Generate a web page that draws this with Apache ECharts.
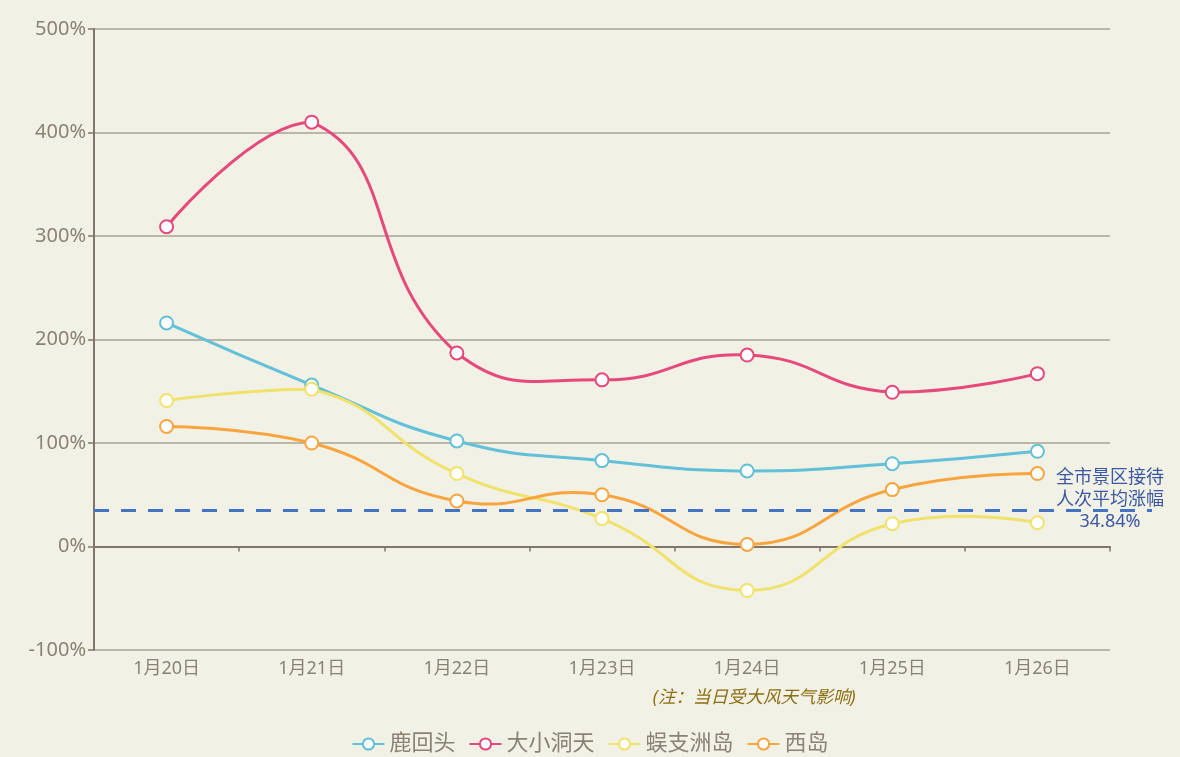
<!DOCTYPE html>
<html>
<head>
<meta charset="utf-8">
<script src="https://cdn.jsdelivr.net/npm/echarts@6/dist/echarts.min.js"></script>
<style>
html,body{margin:0;padding:0;background:#f2f1e6;}
#chart{width:1180px;height:757px;}
</style>
</head>
<body>
<div id="chart"></div>
<script>
const categories = ['1月20日','1月21日','1月22日','1月23日','1月24日','1月25日','1月26日'];
const seriesNames = ['鹿回头','大小洞天','蜈支洲岛','西岛'];
const luhuitou = [216, 156, 102, 83, 73, 80, 92];
const daxiaodongtian = [309, 410, 187, 161, 185, 149, 167];
const wuzhizhoudao = [141, 152, 70.5, 27, -42.5, 22, 23];
const xidao = [116, 100, 44, 50, 2, 55, 70.5];
const averageRise = 34.84;
const averageLabel = ['全市景区接待', '人次平均涨幅', averageRise.toFixed(2) + '%'];
const noteCategory = '1月24日';
const noteText = '(注：当日受大风天气影响)';
const yTicks = { min: -100, max: 500, interval: 100 };

const colors = ['#62c0d8', '#e6497c', '#f1e26c', '#f8a53f'];
const FONT = '"Noto Sans", "Noto Sans CJK SC", sans-serif';
const axisColor = '#7f786a';
const splitColor = '#a9a392';
const labelColor = '#8a8373';
const SMOOTH = 0.5;

const chart = echarts.init(document.getElementById('chart'), null, {renderer: 'canvas'});
const dataSets = [luhuitou, daxiaodongtian, wuzhizhoudao, xidao];

// Smooth curve through the points (bezier control points constrained to the points' bounding box)
function makeCurveRenderer(values, color) {
  return function (params, api) {
    const pts = values.map(function (v, i) { return api.coord([i, v]); });
    let minX = Infinity, minY = Infinity, maxX = -Infinity, maxY = -Infinity;
    pts.forEach(function (p) {
      minX = Math.min(minX, p[0]); maxX = Math.max(maxX, p[0]);
      minY = Math.min(minY, p[1]); maxY = Math.max(maxY, p[1]);
    });
    function clamp(c) {
      return [Math.min(Math.max(c[0], minX), maxX), Math.min(Math.max(c[1], minY), maxY)];
    }
    const children = [];
    let cp0 = pts[0].slice();
    for (let i = 1; i < pts.length; i++) {
      const p = pts[i], prev = pts[i - 1], next = pts[i + 1];
      let cp1, v = [0, 0], r = 0.5;
      if (!next) {
        cp1 = p.slice();
      } else {
        v = [next[0] - prev[0], next[1] - prev[1]];
        const lenPrev = Math.hypot(p[0] - prev[0], p[1] - prev[1]);
        const lenNext = Math.hypot(next[0] - p[0], next[1] - p[1]);
        r = lenNext / (lenNext + lenPrev);
        cp1 = [p[0] - v[0] * SMOOTH * (1 - r), p[1] - v[1] * SMOOTH * (1 - r)];
      }
      const c0 = clamp(cp0), c1 = clamp(cp1);
      children.push({
        type: 'bezierCurve',
        shape: { x1: prev[0], y1: prev[1], x2: p[0], y2: p[1], cpx1: c0[0], cpy1: c0[1], cpx2: c1[0], cpy2: c1[1] },
        style: { stroke: color, lineWidth: 3, fill: null }
      });
      cp0 = [p[0] + v[0] * SMOOTH * r, p[1] + v[1] * SMOOTH * r];
    }
    return { type: 'group', children: children };
  };
}

const curveSeries = dataSets.map(function (vals, i) {
  return {
    type: 'custom', coordinateSystem: 'cartesian2d', xAxisIndex: 0, yAxisIndex: 0,
    data: [[0, vals[0]]], renderItem: makeCurveRenderer(vals, colors[i]), silent: true, z: 2,
    clip: false
  };
});

const lineSeries = seriesNames.map(function (name, i) {
  return {
    name: name, type: 'line', xAxisIndex: 0, yAxisIndex: 0,
    data: dataSets[i],
    symbol: 'emptyCircle', symbolSize: 13,
    itemStyle: { color: colors[i], borderWidth: 2 },
    lineStyle: { color: colors[i], width: 3, opacity: 0 },
    z: 3
  };
});

const option = {
  backgroundColor: '#f2f1e6',
  animation: false,
  textStyle: { fontFamily: FONT },
  legend: {
    data: seriesNames.map(function (n, i) {
      return { name: n, lineStyle: { color: colors[i], width: 2, opacity: 1 } };
    }),
    top: 728,
    left: 'center',
    itemWidth: 32,
    itemHeight: 14,
    itemGap: 13,
    textStyle: { color: '#8a8373', fontSize: 22, fontFamily: FONT }
  },
  grid: [
    { left: 94, right: 70, top: 29, bottom: 107 },
    { left: 94, right: 28, top: 29, bottom: 107 }
  ],
  xAxis: [
    {
      type: 'category', gridIndex: 0, data: categories, boundaryGap: true,
      axisLine: { onZero: true, lineStyle: { color: axisColor, width: 2 } },
      axisTick: { show: true, length: 5, lineStyle: { color: axisColor, width: 1.5 } },
      axisLabel: { show: false },
      splitLine: { show: false }
    },
    {
      type: 'category', gridIndex: 0, data: categories, boundaryGap: true, position: 'bottom',
      axisLine: { show: false, onZero: false },
      axisTick: { show: false },
      axisLabel: {
        interval: 0,
        color: labelColor, fontSize: 18, margin: 8, lineHeight: 22, fontFamily: FONT,
        formatter: function (v) { return v === noteCategory ? v + '\n{note|' + noteText + '}' : v; },
        rich: {
          note: { fontSize: 17.5, fontStyle: 'italic', color: '#8c6e12', lineHeight: 36, padding: [0, 0, 0, 14], fontFamily: FONT }
        }
      },
      splitLine: { show: false }
    },
    { type: 'value', gridIndex: 1, min: 0, max: 1, show: false }
  ],
  yAxis: [
    {
      type: 'value', gridIndex: 0, min: yTicks.min, max: yTicks.max, interval: yTicks.interval,
      axisLine: { show: true, lineStyle: { color: axisColor, width: 2 } },
      axisTick: { show: true, length: 6, lineStyle: { color: axisColor, width: 1.5 } },
      axisLabel: { color: labelColor, fontSize: 20, formatter: '{value}%', fontFamily: FONT },
      splitLine: { show: true, lineStyle: { color: splitColor, width: 1.5 } }
    },
    { type: 'value', gridIndex: 1, min: yTicks.min, max: yTicks.max, show: false }
  ],
  series: curveSeries.concat(lineSeries).concat([{
    type: 'line', xAxisIndex: 2, yAxisIndex: 1, data: [], silent: true,
    markLine: {
      silent: true, symbol: ['none', 'none'],
      lineStyle: { color: '#4472c4', width: 3, type: [15, 12] },
      label: {
        show: true, position: 'end', align: 'center', verticalAlign: 'middle',
        formatter: averageLabel.join('\n') + '\n ',
        color: '#3a58a4', fontSize: 18, lineHeight: 22, fontFamily: FONT,
        padding: [0, 94, 0, 0]
      },
      data: [{ yAxis: averageRise }]
    }
  }])
};
chart.setOption(option);
</script>
</body>
</html>
